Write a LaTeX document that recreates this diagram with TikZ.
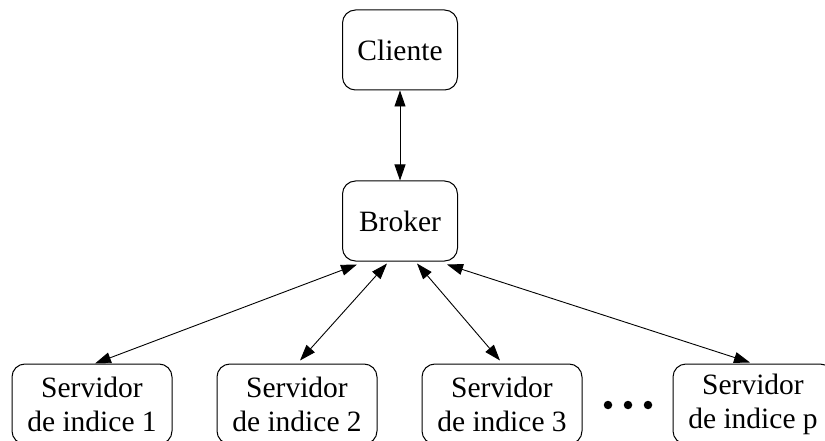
\documentclass[tikz,border=0pt]{standalone}
\usepackage{fontspec}
\setmainfont{Liberation Serif}
\usetikzlibrary{arrows.meta,calc}
\begin{document}
\begin{tikzpicture}[x=1pt,y=-1pt,
  box/.style={draw,line width=1pt,rounded corners=13pt,align=center,inner sep=0pt,
    font=\fontsize{29.5}{34}\selectfont},
  smallbox/.style={box,minimum width=115pt,minimum height=80pt},
  srvbox/.style={box,minimum width=160pt,minimum height=80pt},
  dot/.style={circle,fill,inner sep=0pt,minimum size=8.5pt},
  link/.style={line width=0.9pt,{Triangle[length=16pt,width=11pt]}-{Triangle[length=16pt,width=11pt]}}]
\useasboundingbox (0,0) rectangle (825,441);
\node[smallbox] (cliente) at (400,50) {Cliente};
\node[smallbox] (broker) at (400,221) {Broker};
\node[srvbox] (s1) at (92,404) {Servidor\\de indice 1};
\node[srvbox] (s2) at (297,404) {Servidor\\de indice 2};
\node[srvbox] (s3) at (502,404) {Servidor\\de indice 3};
\node[srvbox] (sp) at (753,404) {Servidor\\de indice p};
\node[dot] (d1) at (608,405) {};
\node[dot] (d2) at (628,405) {};
\node[dot] (d3) at (648,405) {};
\draw[link] (cliente.south) -- (broker.north);
\draw[link] ($(broker.south)+(-43,3)$) -- ($(s1.north)+(3,0)$);
\draw[link] ($(broker.south)+(-13,2)$) -- ($(s2.north)+(3,-3)$);
\draw[link] ($(broker.south)+(17,2)$) -- ($(s3.north)+(-2,-3)$);
\draw[link] ($(broker.south)+(47,3)$) -- ($(sp.north)+(-3,-1)$);
\end{tikzpicture}
\end{document}
